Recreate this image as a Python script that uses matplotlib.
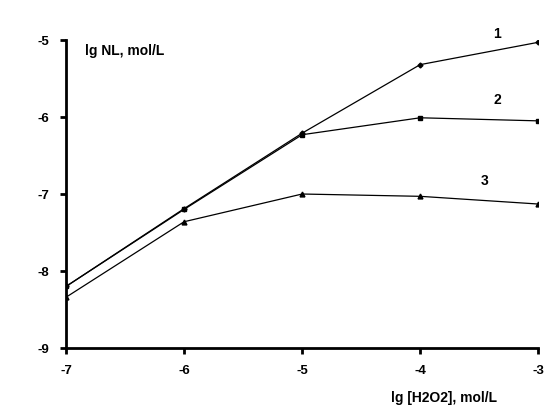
import matplotlib.pyplot as plt

plt.rcParams['font.family'] = ['Liberation Sans', 'DejaVu Sans']
plt.rcParams['font.weight'] = 'bold'

lg_h2o2 = [-7, -6, -5, -4, -3]
curve1 = [-8.20, -7.19, -6.21, -5.32, -5.03]
curve2 = [-8.20, -7.20, -6.23, -6.01, -6.05]
curve3 = [-8.34, -7.36, -7.00, -7.03, -7.13]
curve_labels = ["1", "2", "3"]

fig = plt.figure(figsize=(5.6, 4.15), dpi=100)
ax = fig.add_axes([0.118, 0.1614, 0.843, 0.7422])

ax.plot(lg_h2o2, curve1, color='black', lw=0.9, marker='D', ms=2.5)
ax.plot(lg_h2o2, curve2, color='black', lw=0.9, marker='s', ms=3)
ax.plot(lg_h2o2, curve3, color='black', lw=0.9, marker='^', ms=3.5)

ax.set_xlim(-7, -3)
ax.set_ylim(-9, -5)
ax.set_xticks([-7, -6, -5, -4, -3])
ax.set_yticks([-9, -8, -7, -6, -5])
ax.set_xticklabels(['-7', '-6', '-5', '-4', '-3'], fontweight='bold')
ax.set_yticklabels(['-9', '-8', '-7', '-6', '-5'], fontweight='bold')
ax.tick_params(labelsize=9.5, width=2, length=4, pad=8)

for side in ['top', 'right']:
    ax.spines[side].set_visible(False)
for side in ['left', 'bottom']:
    ax.spines[side].set_linewidth(2)

# curve numbers
ax.text(-3.35, -4.98, curve_labels[0], fontsize=10, fontweight='bold', ha='center')
ax.text(-3.35, -5.83, curve_labels[1], fontsize=10, fontweight='bold', ha='center')
ax.text(-3.45, -6.88, curve_labels[2], fontsize=10, fontweight='bold', ha='center')

ax.text(-6.84, -5.05, 'lg NL, mol/L', fontsize=10, fontweight='bold', va='top')
fig.text(0.888, 0.032, 'lg [H2O2], mol/L', fontsize=10, fontweight='bold', ha='right')

fig.savefig('out.png', dpi=100)
